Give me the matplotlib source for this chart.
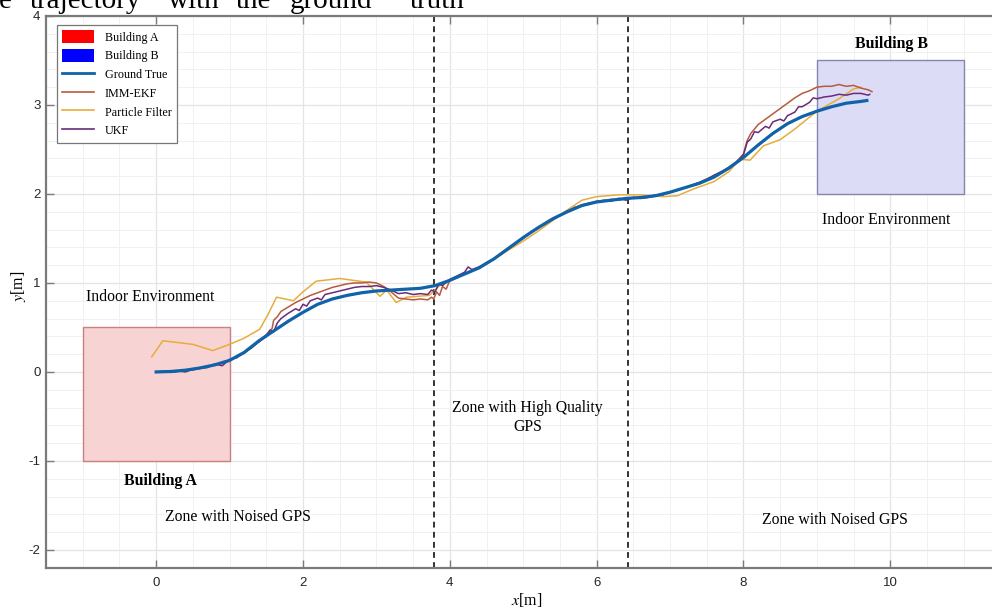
import matplotlib.pyplot as plt
import matplotlib.patches as mpatches
from matplotlib.lines import Line2D
from matplotlib.ticker import MultipleLocator

plt.rcParams['mathtext.fontset'] = 'stix'
plt.rcParams['axes.unicode_minus'] = False

# ground truth trajectory
gt_x = [0, 0.2, 0.4, 0.6, 0.8, 1.0, 1.2, 1.4, 1.6, 1.8, 2.0, 2.2, 2.4, 2.6, 2.8, 3.0, 3.2, 3.4, 3.6,
        3.8, 4.0, 4.2, 4.4, 4.6, 4.8, 5.0, 5.2, 5.4, 5.6, 5.8, 6.0, 6.2, 6.4, 6.6, 6.8, 7.0, 7.2,
        7.4, 7.6, 7.8, 8.0, 8.2, 8.4, 8.6, 8.8, 9.0, 9.2, 9.4, 9.6, 9.68]
gt_y = [0, 0.005, 0.02, 0.045, 0.08, 0.13, 0.22, 0.35, 0.46, 0.57, 0.67, 0.76, 0.82, 0.86, 0.89,
        0.91, 0.92, 0.93, 0.94, 0.97, 1.03, 1.10, 1.17, 1.27, 1.39, 1.51, 1.62, 1.72, 1.80, 1.87,
        1.91, 1.93, 1.95, 1.96, 1.98, 2.02, 2.07, 2.12, 2.19, 2.29, 2.41, 2.55, 2.68, 2.79, 2.87,
        2.93, 2.98, 3.02, 3.04, 3.05]

# IMM-EKF estimate
imm_x = [0.0, 0.1, 0.2, 0.3, 0.4, 0.5, 0.6, 0.7, 0.8, 0.9, 1.0, 1.1, 1.2, 1.3, 1.4, 1.5, 1.58, 1.6,
         1.65, 1.7, 1.8, 1.9, 2.0, 2.1, 2.2, 2.3, 2.4, 2.5, 2.6, 2.7, 2.8, 2.9, 3.0, 3.1, 3.2, 3.3,
         3.4, 3.5, 3.6, 3.7, 3.75, 3.78, 3.82, 3.86, 3.9, 3.95, 4.0, 4.1, 4.2, 4.3, 4.4, 4.5, 4.6,
         4.7, 4.8, 4.9, 5.0, 5.1, 5.2, 5.3, 5.4, 5.5, 5.6, 5.7, 5.8, 5.9, 6.0, 6.1, 6.2, 6.3, 6.4,
         6.5, 6.6, 6.7, 6.8, 6.9, 7.0, 7.1, 7.2, 7.3, 7.4, 7.5, 7.6, 7.7, 7.8, 7.9, 8.0, 8.05, 8.1,
         8.2, 8.3, 8.4, 8.5, 8.6, 8.7, 8.8, 8.9, 9.0, 9.1, 9.2, 9.3, 9.4, 9.5, 9.6, 9.7, 9.75]
imm_y = [0.0, 0.01, 0.0, 0.005, 0.02, 0.02, 0.05, 0.06, 0.08, 0.10, 0.13, 0.17, 0.21, 0.28, 0.34,
         0.42, 0.49, 0.58, 0.62, 0.68, 0.73, 0.78, 0.82, 0.86, 0.89, 0.92, 0.95, 0.97, 0.99, 1.00,
         1.00, 1.01, 1.00, 0.96, 0.90, 0.83, 0.82, 0.81, 0.82, 0.81, 0.84, 0.82, 0.90, 0.86, 0.96,
         0.93, 1.03, 1.07, 1.11, 1.14, 1.17, 1.22, 1.27, 1.32, 1.38, 1.44, 1.51, 1.56, 1.62, 1.66,
         1.72, 1.76, 1.81, 1.84, 1.88, 1.89, 1.92, 1.92, 1.94, 1.93, 1.95, 1.96, 1.96, 1.97, 1.99,
         1.99, 2.02, 2.05, 2.07, 2.10, 2.13, 2.17, 2.21, 2.25, 2.30, 2.36, 2.45, 2.60, 2.68, 2.78,
         2.84, 2.90, 2.96, 3.02, 3.08, 3.13, 3.16, 3.20, 3.21, 3.21, 3.23, 3.21, 3.22, 3.19, 3.17,
         3.15]

# Particle filter estimate
pf_x = [-0.06, 0.09, 0.3, 0.5, 0.77, 1.0, 1.2, 1.41, 1.52, 1.64, 1.87, 2.0, 2.18, 2.5, 2.86, 3.05,
        3.14, 3.27, 3.41, 3.72, 3.86, 4.0, 4.2, 4.5, 4.8, 5.0, 5.2, 5.4, 5.6, 5.8, 6.0, 6.3, 6.6,
        6.9, 7.1, 7.3, 7.6, 7.8, 7.95, 8.09, 8.27, 8.5, 8.7, 9.0, 9.3, 9.5, 9.6]
pf_y = [0.17, 0.35, 0.33, 0.31, 0.24, 0.31, 0.38, 0.48, 0.64, 0.84, 0.80, 0.90, 1.02, 1.05, 1.01,
        0.85, 0.92, 0.78, 0.84, 0.86, 0.97, 1.02, 1.10, 1.22, 1.37, 1.47, 1.58, 1.70, 1.82, 1.93,
        1.97, 1.99, 1.99, 1.97, 1.98, 2.05, 2.14, 2.25, 2.39, 2.38, 2.54, 2.61, 2.73, 2.93, 3.07,
        3.18, 3.20]

# UKF estimate
ukf_x = [0.0, 0.1, 0.2, 0.3, 0.4, 0.5, 0.6, 0.7, 0.8, 0.9, 1.0, 1.1, 1.2, 1.3, 1.4, 1.5, 1.55, 1.6,
         1.65, 1.7, 1.75, 1.8, 1.9, 1.95, 2.0, 2.05, 2.1, 2.2, 2.25, 2.3, 2.4, 2.5, 2.6, 2.7, 2.8,
         2.9, 3.0, 3.1, 3.2, 3.3, 3.4, 3.5, 3.6, 3.7, 3.75, 3.8, 3.85, 3.9, 4.0, 4.1, 4.2, 4.25,
         4.3, 4.4, 4.5, 4.6, 4.7, 4.8, 4.9, 5.0, 5.1, 5.2, 5.3, 5.4, 5.5, 5.6, 5.7, 5.8, 5.9, 6.0,
         6.1, 6.2, 6.3, 6.4, 6.5, 6.6, 6.7, 6.8, 6.9, 7.0, 7.1, 7.2, 7.3, 7.4, 7.5, 7.6, 7.7, 7.8,
         7.9, 8.0, 8.05, 8.1, 8.15, 8.2, 8.3, 8.35, 8.4, 8.5, 8.55, 8.6, 8.7, 8.75, 8.8, 8.9, 8.95,
         9.0, 9.1, 9.2, 9.3, 9.4, 9.5, 9.6, 9.7, 9.72]
ukf_y = [0.0, 0.005, -0.005, 0.01, 0.0, 0.03, 0.04, 0.05, 0.09, 0.07, 0.14, 0.16, 0.22, 0.27, 0.34,
         0.40, 0.47, 0.45, 0.55, 0.60, 0.63, 0.66, 0.71, 0.69, 0.76, 0.74, 0.80, 0.83, 0.81, 0.87,
         0.89, 0.91, 0.93, 0.95, 0.96, 0.96, 0.97, 0.95, 0.92, 0.88, 0.89, 0.87, 0.88, 0.87, 0.92,
         0.90, 0.99, 0.97, 1.04, 1.08, 1.12, 1.18, 1.15, 1.18, 1.23, 1.27, 1.33, 1.39, 1.45, 1.50,
         1.57, 1.61, 1.67, 1.71, 1.76, 1.80, 1.85, 1.87, 1.90, 1.91, 1.93, 1.92, 1.95, 1.93, 1.96,
         1.95, 1.96, 1.98, 1.99, 2.02, 2.04, 2.07, 2.10, 2.13, 2.16, 2.21, 2.25, 2.29, 2.35, 2.44,
         2.58, 2.62, 2.70, 2.69, 2.76, 2.74, 2.81, 2.84, 2.82, 2.88, 2.92, 2.98, 2.98, 3.03, 3.08,
         3.07, 3.09, 3.10, 3.12, 3.11, 3.13, 3.13, 3.11, 3.12]

zone_bounds = [3.78, 6.43]
bldg_a = (-1.0, -1.0, 2.0, 1.5)   # x, y, w, h
bldg_b = (9.0, 2.0, 2.0, 1.5)

title_words = ['e', 'trajectory', 'with', 'the', 'ground', 'truth']
title_px = [-1, 30, 168, 236, 290, 410]   # left edge of each word, pixels

fig = plt.figure(figsize=(9.92, 6.10), dpi=100)
ax = fig.add_axes([0.0464, 0.0693, 0.9695, 0.9045])

ax.set_xlim(-1.5, 11.6)
ax.set_ylim(-2.2, 4)

ax.xaxis.set_major_locator(MultipleLocator(2))
ax.xaxis.set_minor_locator(MultipleLocator(0.5))
ax.yaxis.set_major_locator(MultipleLocator(1))
ax.yaxis.set_minor_locator(MultipleLocator(0.2))
ax.grid(which='major', color='#e4e4e4', linewidth=0.9)
ax.grid(which='minor', color='#f1f1f1', linewidth=0.7)
ax.set_axisbelow(True)

ax.tick_params(which='major', direction='in', length=6, width=1.0, color='#7a7a7a',
               labelsize=9.5, labelcolor='#262626', top=True, right=True)
ax.tick_params(axis='x', which='major', pad=6.5)
ax.tick_params(axis='y', which='major', pad=4)
ax.tick_params(which='minor', length=0)
for lab in ax.get_xticklabels() + ax.get_yticklabels():
    lab.set_fontfamily('Liberation Sans')
for sp in ax.spines.values():
    sp.set_color('#7a7a7a')
    sp.set_linewidth(1.6)

ax.add_patch(mpatches.Rectangle(bldg_a[:2], bldg_a[2], bldg_a[3],
                                facecolor='#f7d3d3', edgecolor='#c98080', linewidth=1.0, zorder=1))
ax.add_patch(mpatches.Rectangle(bldg_b[:2], bldg_b[2], bldg_b[3],
                                facecolor='#dcdcf7', edgecolor='#8686a8', linewidth=1.0, zorder=1))

for xb in zone_bounds:
    ax.axvline(xb, color='#333333', linestyle=(0, (3, 2.2)), linewidth=1.4, zorder=2)

ax.plot(pf_x, pf_y, color='#e6ad3c', linewidth=1.1, zorder=3)
ax.plot(imm_x, imm_y, color='#b85a3e', linewidth=1.1, zorder=3)
ax.plot(ukf_x, ukf_y, color='#6b2b78', linewidth=1.1, zorder=4)
ax.plot(gt_x, gt_y, color='#1063a8', linewidth=2.3, zorder=5)

serif = 'Liberation Serif'
fs = 11.3
ax.text(-0.08, 0.84, 'Indoor Environment', family=serif, fontsize=fs, ha='center', va='center')
ax.text(0.06, -1.23, 'Building A', family=serif, fontsize=11.4, fontweight='bold', ha='center', va='center')
ax.text(1.11, -1.63, 'Zone with Noised GPS', family=serif, fontsize=fs, ha='center', va='center')
ax.text(5.06, -0.51, 'Zone with High Quality\nGPS', family=serif, fontsize=fs,
        ha='center', va='center', linespacing=1.3)
ax.text(10.02, 3.68, 'Building B', family=serif, fontsize=11.4, fontweight='bold', ha='center', va='center')
ax.text(9.94, 1.71, 'Indoor Environment', family=serif, fontsize=fs, ha='center', va='center')
ax.text(9.24, -1.66, 'Zone with Noised GPS', family=serif, fontsize=fs, ha='center', va='center')

ax.set_xlabel(r'$x$[m]', family=serif, fontsize=11.5)
ax.set_ylabel(r'$y$[m]', family=serif, fontsize=11.5)
ax.xaxis.set_label_coords(0.5, -0.043)
ax.yaxis.set_label_coords(-0.019, 0.51)

handles = [mpatches.Patch(facecolor='#ff0000', edgecolor='none', label='Building A'),
           mpatches.Patch(facecolor='#0000ff', edgecolor='none', label='Building B'),
           Line2D([], [], color='#1063a8', linewidth=2.0, label='Ground True'),
           Line2D([], [], color='#b85a3e', linewidth=1.2, label='IMM-EKF'),
           Line2D([], [], color='#e6ad3c', linewidth=1.2, label='Particle Filter'),
           Line2D([], [], color='#6b2b78', linewidth=1.2, label='UKF')]
leg = ax.legend(handles=handles, loc='upper left', bbox_to_anchor=(0.0114, 0.9837),
                borderaxespad=0, prop={'family': serif, 'size': 8.7}, fancybox=False,
                framealpha=1, edgecolor='#777777', handlelength=2.6, handleheight=1.2,
                labelspacing=0.45, borderpad=0.45, handletextpad=0.9)
leg.get_frame().set_linewidth(0.9)

# title clipped at the top edge, like the source figure
for word, px in zip(title_words, title_px):
    fig.text(px / 992, 1 - 8 / 610, word, family=serif, fontsize=21, ha='left', va='baseline')

fig.savefig('out.png', dpi=100)
